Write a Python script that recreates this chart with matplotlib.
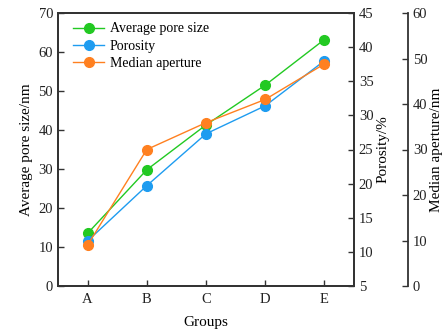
import matplotlib.pyplot as plt

plt.rcParams['font.family'] = ['Liberation Serif', 'DejaVu Serif']
plt.rcParams['font.size'] = 10

groups = ['A', 'B', 'C', 'D', 'E']
avg_pore = [13.5, 29.8, 41.3, 51.5, 63.2]
porosity = [11.6, 19.7, 27.3, 31.4, 38.0]
median_ap = [9.0, 30.0, 35.9, 41.0, 48.8]

c_green = '#22c922'
c_blue = '#1e9cf0'
c_orange = '#ff8020'
spine_c = '#333333'

fig = plt.figure(figsize=(4.45, 3.33), dpi=100)
ax = fig.add_axes([58/445, 47/333, 296/445, 273/333])
ax2 = ax.twinx()
ax3 = ax.twinx()
ax3.spines['right'].set_position(('axes', 350/296))

x = range(1, len(groups) + 1)
l1, = ax.plot(x, avg_pore, '-o', color=c_green, lw=1, ms=7, label='Average pore size')
l2, = ax2.plot(x, porosity, '-o', color=c_blue, lw=1, ms=7, label='Porosity')
l3, = ax3.plot(x, median_ap, '-o', color=c_orange, lw=1, ms=7, label='Median aperture')

ax.set_xlim(0.5, 5.5)
ax.set_xticks(list(x))
ax.set_xticklabels(groups)
ax.set_ylim(0, 70)
ax.set_yticks(range(0, 71, 10))
ax2.set_ylim(5, 45)
ax2.set_yticks(range(5, 46, 5))
ax3.set_ylim(0, 60)
ax3.set_yticks(range(0, 61, 10))

ax.set_xlabel('Groups', fontsize=11, labelpad=7)
ax.set_ylabel('Average pore size/nm', fontsize=11, labelpad=4)
ax2.set_ylabel('Porosity/%', fontsize=11, labelpad=2)
ax3.set_ylabel('Median aperture/nm', fontsize=11, labelpad=2)

for a in (ax, ax2, ax3):
    for s in a.spines.values():
        s.set_color(spine_c)
        s.set_linewidth(1.3)
    a.tick_params(direction='in', length=4, width=1, color=spine_c,
                  labelcolor='#222222', labelsize=10.5)

ax.tick_params(axis='x', pad=5)
ax3.spines['top'].set_visible(False)
ax3.spines['left'].set_visible(False)
ax3.spines['bottom'].set_visible(False)

ax.legend(handles=[l1, l2, l3], loc='upper left', bbox_to_anchor=(0.024, 0.996),
          frameon=False, fontsize=10, handlelength=2.2, handletextpad=0.4,
          borderaxespad=0.2, labelspacing=0.3)

fig.savefig('out.png', dpi=100)
